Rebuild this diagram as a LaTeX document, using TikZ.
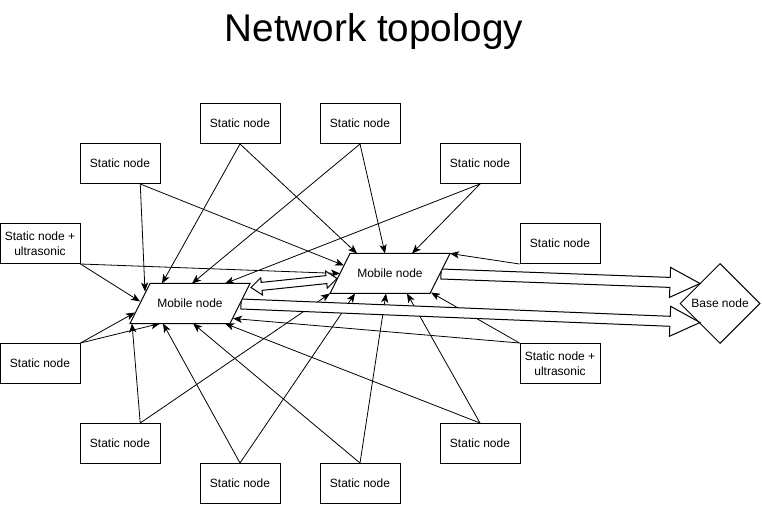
\documentclass[tikz,border=0pt]{standalone}
\usepackage{fontspec}
\setmainfont{Liberation Sans}
\usetikzlibrary{shapes.geometric, arrows.meta, calc}
\newcommand\flexone[5]{%
  \coordinate (fa) at (#1); \coordinate (fb) at (#2);
  \coordinate (fh) at ($(fb)!#5!(fa)$);
  \draw[flex] ($(fa)!#3!90:(fb)$) -- ($(fh)!#3!-90:(fa)$) -- ($(fh)!#4!-90:(fa)$) -- (fb)
    -- ($(fh)!#4!90:(fa)$) -- ($(fh)!#3!90:(fa)$) -- ($(fa)!#3!-90:(fb)$) -- cycle;}
\newcommand\flextwo[5]{%
  \coordinate (fa) at (#1); \coordinate (fb) at (#2);
  \coordinate (fh) at ($(fa)!#5!(fb)$); \coordinate (fg) at ($(fb)!#5!(fa)$);
  \draw[flex] (fa) -- ($(fh)!#4!90:(fb)$) -- ($(fh)!#3!90:(fb)$) -- ($(fg)!#3!-90:(fa)$)
    -- ($(fg)!#4!-90:(fa)$) -- (fb) -- ($(fg)!#4!90:(fa)$) -- ($(fg)!#3!90:(fa)$)
    -- ($(fh)!#3!-90:(fb)$) -- ($(fh)!#4!-90:(fb)$) -- cycle;}
\begin{document}
\begin{tikzpicture}[x=0.75pt, y=-0.75pt, line width=0.75pt,
  box/.style={draw, fill=white, minimum width=60pt, minimum height=30pt, inner sep=0pt,
    align=center, font=\fontsize{9}{11}\selectfont},
  conn/.style={-{Stealth[length=6.8pt,width=5.4pt,inset=1.8pt]}, line width=0.6pt},
  flex/.style={draw, fill=white, line width=0.75pt, line join=miter},
  mob/.style={draw, fill=white, line width=0.75pt},
  lbl/.style={font=\fontsize{9}{11}\selectfont, inner sep=0pt}]
\fill[white] (0,0) rectangle (762,505);
\useasboundingbox (0,0) rectangle (762,505);

\node[font=\fontsize{29}{34}\selectfont, anchor=base] (title) at (374,42) {Network topology};

\node[box] (s1) at (240,123.5) {Static node};
\node[box] (s2) at (360,123.5) {Static node};
\node[box] (s3) at (120,163.5) {Static node};
\node[box] (s4) at (480,163.5) {Static node};
\node[box] (su1) at (40,243.5) {Static node +\\ultrasonic};
\node[box] (s5) at (560,243.5) {Static node};
\node[box] (s6) at (40,363.5) {Static node};
\node[box] (su2) at (560,363.5) {Static node +\\ultrasonic};
\node[box] (s7) at (120,443.5) {Static node};
\node[box] (s8) at (480,443.5) {Static node};
\node[box] (s9) at (240,483.5) {Static node};
\node[box] (s10) at (360,483.5) {Static node};
\node[diamond, draw, fill=white, minimum width=60pt, minimum height=60pt, inner sep=0pt,
  font=\fontsize{9}{11}\selectfont] (base) at (720,303.5) {Base node};

\coordinate (m1) at (190,303.5);
\coordinate (m2) at (390,273.5);
\coordinate (s3x) at ($(s3.south)!0.5!(s3.south east)$);
\coordinate (s7x) at ($(s7.north)!0.5!(s7.north east)$);

% thin connectors
\draw[conn] (s1.south) -- ($(m1)+(-28,-20)$);
\draw[conn] (s1.south) -- ($(m2)+(-33,-20)$);
\draw[conn] (s2.south) -- ($(m1)+(2,-20)$);
\draw[conn] (s2.south) -- ($(m2)+(-5,-20)$);
\draw[conn] (s3x) -- ($(m1)+(-45,-12)$);
\draw[conn] (s3x) -- ($(m2)+(-46,-8)$);
\draw[conn] (s4.south) -- ($(m1)+(35,-20)$);
\draw[conn] (s4.south) -- ($(m2)+(22,-20)$);
\draw[conn] (su1.south east) -- ($(m1)+(-50,-2)$);
\draw[conn] (su1.south east) -- ($(m2)+(-50,0)$);
\draw[conn] (s5.south west) -- ($(m2)+(60,-20)$);
\draw[conn] (s6.north east) -- ($(m1)+(-55,9)$);
\draw[conn] (s6.north east) -- ($(m1)+(-30,20)$);
\draw[conn] (su2.north west) -- ($(m1)+(43,15)$);
\draw[conn] (su2.north west) -- ($(m2)+(41,19)$);
\draw[conn] (s7x) -- ($(m1)+(-58,20)$);
\draw[conn] (s7x) -- ($(m2)+(-60,20)$);
\draw[conn] (s8.north) -- ($(m1)+(35,20)$);
\draw[conn] (s8.north) -- ($(m2)+(17,20)$);
\draw[conn] (s9.north) -- ($(m1)+(-27,20)$);
\draw[conn] (s9.north) -- ($(m2)+(-35,20)$);
\draw[conn] (s10.north) -- ($(m1)+(3,20)$);
\draw[conn] (s10.north) -- ($(m2)+(-4,20)$);

% wide arrows
\coordinate (a1s) at ($(m2)+(51,0.5)$);
\coordinate (a1e) at ($(base)+(-20,-20)$);
\flexone{a1s}{a1e}{3.75pt}{11.25pt}{22.5pt}
\coordinate (a2s) at ($(m1)+(51,0.5)$);
\coordinate (a2e) at ($(base)+(-20,19)$);
\flexone{a2s}{a2e}{3.75pt}{11.25pt}{22.5pt}
\coordinate (a3s) at ($(m1)+(61,-16)$);
\coordinate (a3e) at ($(m2)+(-53,5)$);
\flextwo{a3s}{a3e}{3pt}{6.5pt}{8pt}

% mobile nodes
\draw[mob] ($(m1)+(-40,-20)$) -- ($(m1)+(60,-20)$) -- ($(m1)+(40,20)$) -- ($(m1)+(-60,20)$) -- cycle;
\node[lbl] (m1t) at (m1) {Mobile node};
\draw[mob] ($(m2)+(-40,-20)$) -- ($(m2)+(60,-20)$) -- ($(m2)+(40,20)$) -- ($(m2)+(-60,20)$) -- cycle;
\node[lbl] (m2t) at (m2) {Mobile node};
\end{tikzpicture}
\end{document}
